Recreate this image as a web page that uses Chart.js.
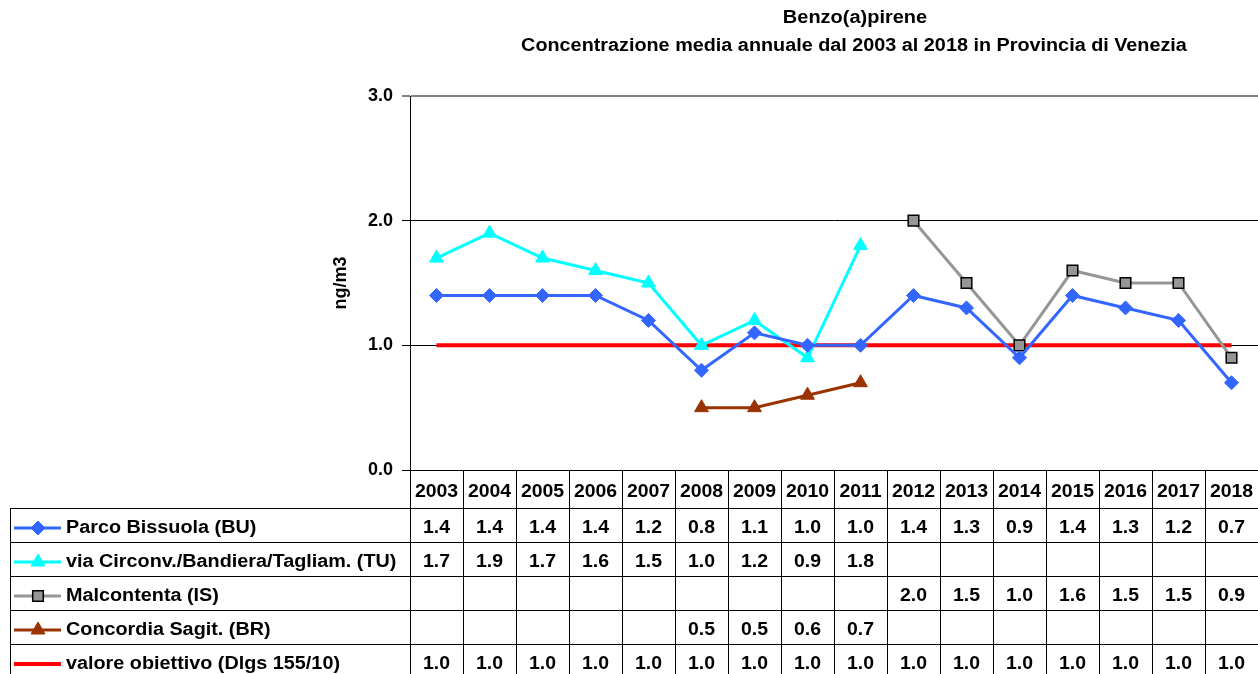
<!DOCTYPE html>
<html>
<head>
<meta charset="utf-8">
<title>Benzo(a)pirene - Provincia di Venezia</title>
<script src="https://cdn.jsdelivr.net/npm/chart.js@4.4.1/dist/chart.umd.min.js"></script>
<style>
  html, body { margin: 0; padding: 0; background: #fff; overflow: hidden; }
  #contenitore { width: 1258px; height: 674px; }
  canvas { display: block; }
</style>
</head>
<body>
<div id="contenitore"><canvas id="grafico" width="1258" height="674"></canvas></div>
<script>
// Anni (categorie dell'asse X / intestazione della tabella)
const anni = ["2003", "2004", "2005", "2006", "2007", "2008", "2009", "2010",
  "2011", "2012", "2013", "2014", "2015", "2016", "2017", "2018"];

// Concentrazioni medie annuali (ng/m3)
const parcoBissuola = [1.4, 1.4, 1.4, 1.4, 1.2, 0.8, 1.1, 1.0, 1.0, 1.4, 1.3, 0.9, 1.4, 1.3, 1.2, 0.7];
const viaCirconv = [1.7, 1.9, 1.7, 1.6, 1.5, 1.0, 1.2, 0.9, 1.8, null, null, null, null, null, null, null];
const malcontenta = [null, null, null, null, null, null, null, null, null, 2.0, 1.5, 1.0, 1.6, 1.5, 1.5, 0.9];
const concordia = [null, null, null, null, null, 0.5, 0.5, 0.6, 0.7, null, null, null, null, null, null, null];
const valoreObiettivo = [1.0, 1.0, 1.0, 1.0, 1.0, 1.0, 1.0, 1.0, 1.0, 1.0, 1.0, 1.0, 1.0, 1.0, 1.0, 1.0];

// Tacche dell'asse Y
const tacchePrincipali = [0, 1, 2, 3];

const FONT = "'Liberation Sans', Arial, sans-serif";

// Serie nell'ordine della tabella dati
const serie = [
  { label: "Parco Bissuola (BU)", data: parcoBissuola, colore: "#3366FF", riempimento: "#3366FF", bordo: "#3366FF", stile: "rectRot", raggio: 7, spessore: 3 },
  { label: "via Circonv./Bandiera/Tagliam. (TU)", data: viaCirconv, colore: "#00FFFF", riempimento: "#00FFFF", bordo: "#00FFFF", stile: "triangle", raggio: 8, spessore: 3 },
  { label: "Malcontenta (IS)", data: malcontenta, colore: "#969696", riempimento: "#969696", bordo: "#000000", stile: "rect", raggio: 7.5, spessore: 3 },
  { label: "Concordia Sagit. (BR)", data: concordia, colore: "#993300", riempimento: "#993300", bordo: "#993300", stile: "triangle", raggio: 8, spessore: 3 },
  { label: "valore obiettivo (Dlgs 155/10)", data: valoreObiettivo, colore: "#FF0000", riempimento: "#FF0000", bordo: "#FF0000", stile: false, raggio: 0, spessore: 4 },
];

/**
 * Scrive un testo leggermente allargato in orizzontale (come nell'originale)
 */
const scriviTesto = (ctx, testo, x, y, allarga = 1.1) => {
  ctx.save();
  ctx.translate(x, y);
  ctx.scale(allarga, 1);
  ctx.fillText(testo, 0, 0);
  ctx.restore();
};

/**
 * Disegna il simbolo della serie (usato nella legenda della tabella)
 */
const disegnaSimbolo = (ctx, s, x, y) => {
  if (!s.stile) return;
  ctx.save();
  ctx.fillStyle = s.riempimento;
  ctx.strokeStyle = s.bordo;
  ctx.lineWidth = s.stile === "rect" ? 1.5 : 1;
  Chart.helpers.drawPoint(ctx, { pointStyle: s.stile, radius: s.raggio, rotation: 0, borderWidth: ctx.lineWidth }, x, y);
  ctx.restore();
};

/**
 * Plugin: titolo e tabella dati sotto il grafico
 */
const tabellaDati = {
  id: "tabellaDati",
  afterDraw(chart) {
    const { ctx, chartArea } = chart;
    const xs = chart.scales.x;
    const passo = xs.getPixelForValue(1) - xs.getPixelForValue(0);
    const sinistraTab = 10;
    const altezzaAnni = 38;
    const altezzaRiga = 34;
    const yAnni = chartArea.bottom;
    const yRighe = yAnni + altezzaAnni;
    const fondo = chart.height;

    ctx.save();

    // Titolo
    ctx.fillStyle = "#000";
    ctx.textAlign = "center";
    ctx.textBaseline = "middle";
    ctx.font = `bold 18px ${FONT}`;
    scriviTesto(ctx, "Benzo(a)pirene", 855, 18, 1.11);
    scriviTesto(ctx, "Concentrazione media annuale dal 2003 al 2018 in Provincia di Venezia", 854, 46, 1.1);

    // Linee orizzontali della tabella
    ctx.strokeStyle = "#000";
    ctx.lineWidth = 1;
    ctx.beginPath();
    for (let r = 0; r <= serie.length; r++) {
      const y = Math.round(yRighe + r * altezzaRiga) + 0.5;
      ctx.moveTo(sinistraTab, y);
      ctx.lineTo(chartArea.right, y);
    }
    // Linee verticali
    ctx.moveTo(sinistraTab + 0.5, yRighe);
    ctx.lineTo(sinistraTab + 0.5, fondo);
    for (let i = 0; i <= anni.length; i++) {
      const x = Math.round(xs.getPixelForValue(i) - passo / 2) + 0.5;
      ctx.moveTo(x, yAnni);
      ctx.lineTo(x, fondo);
    }
    ctx.stroke();

    // Intestazione anni
    ctx.font = `bold 18px ${FONT}`;
    ctx.textAlign = "center";
    anni.forEach((a, i) => scriviTesto(ctx, a, xs.getPixelForValue(i), yAnni + altezzaAnni / 2 + 3, 1.08));

    // Righe della tabella: legenda + valori
    serie.forEach((s, r) => {
      const yc = yRighe + r * altezzaRiga + altezzaRiga / 2 + 3;
      // chiave legenda
      ctx.strokeStyle = s.colore;
      ctx.lineWidth = s.spessore;
      ctx.beginPath();
      ctx.moveTo(14, yc);
      ctx.lineTo(61, yc);
      ctx.stroke();
      disegnaSimbolo(ctx, s, 38, yc);
      ctx.fillStyle = "#000";
      ctx.textAlign = "left";
      scriviTesto(ctx, s.label, 66, yc, 1.1);
      ctx.textAlign = "center";
      s.data.forEach((v, i) => {
        if (v !== null) scriviTesto(ctx, v.toFixed(1), xs.getPixelForValue(i), yc, 1.08);
      });
    });

    ctx.restore();
  },
};

const ctx = document.getElementById("grafico").getContext("2d");

new Chart(ctx, {
  type: "line",
  data: {
    labels: anni,
    datasets: serie.map((s, i) => ({
      label: s.label,
      data: s.data,
      borderColor: s.colore,
      backgroundColor: s.riempimento,
      borderWidth: s.spessore,
      pointStyle: s.stile || "circle",
      pointRadius: s.raggio,
      pointHoverRadius: s.raggio,
      pointBackgroundColor: s.riempimento,
      pointBorderColor: s.bordo,
      pointBorderWidth: s.stile === "rect" ? 1.5 : 1,
      tension: 0,
      spanGaps: false,
      fill: false,
      // la linea del valore obiettivo resta sotto le altre serie
      order: i === 4 ? 10 : i,
    })),
  },
  options: {
    responsive: false,
    animation: false,
    devicePixelRatio: 1,
    // l'area del grafico prosegue un poco oltre il bordo destro, come nell'originale
    layout: { autoPadding: false, padding: { left: 330, right: -2, top: 96, bottom: 204 } },
    plugins: {
      legend: { display: false },
      title: { display: false },
      tooltip: { enabled: false },
    },
    scales: {
      x: {
        type: "category",
        display: false,
        offset: true,
      },
      y: {
        min: 0,
        max: 3,
        afterBuildTicks: (s) => { s.ticks = tacchePrincipali.map((v) => ({ value: v })); },
        afterFit: (s) => { s.width = 80; },
        ticks: {
          callback: (v) => Number(v).toFixed(1),
          color: "#000",
          font: { family: FONT, size: 18, weight: "bold" },
          padding: 9,
        },
        grid: {
          color: (c) => (c.tick && c.tick.value === 3 ? "#808080" : "#000"),
          lineWidth: (c) => (c.tick && c.tick.value === 3 ? 2 : 1),
          tickColor: "#000",
          tickWidth: 1,
          tickLength: 8,
        },
        border: { color: "#000", width: 1 },
        title: {
          display: true,
          text: "ng/m3",
          color: "#000",
          font: { family: FONT, size: 18, weight: "bold" },
          padding: { top: 0, bottom: 0 },
        },
      },
    },
  },
  plugins: [tabellaDati],
});
</script>
</body>
</html>
